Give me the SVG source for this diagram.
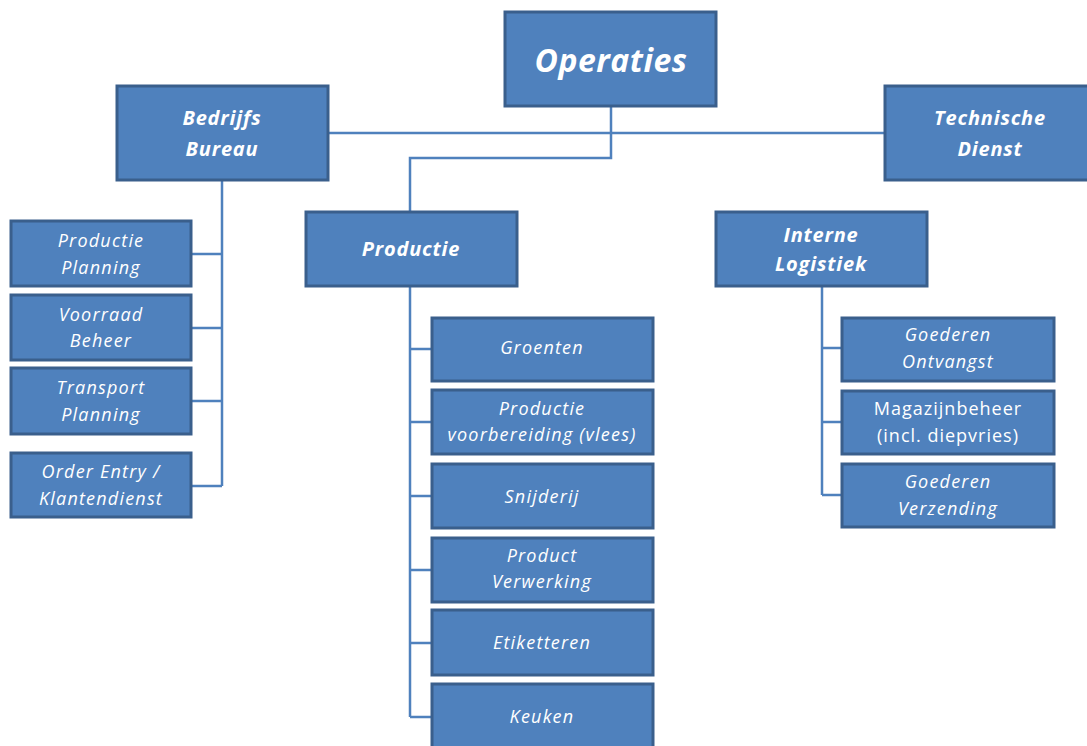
<svg xmlns="http://www.w3.org/2000/svg" width="1087" height="746" viewBox="0 0 1087 746">
<style>
.box{fill:#4F81BD;stroke:#3A5F8C;stroke-width:3}
.t{font-family:"Open Sans","Liberation Sans",sans-serif;fill:#fff;text-anchor:middle}
.l1{font-size:32px;font-weight:bold;font-style:italic;letter-spacing:0.5px}
.l2{font-size:20px;font-weight:bold;font-style:italic;letter-spacing:0.8px}
.l3{font-size:18px;font-style:italic;letter-spacing:1.2px}
.n{font-size:18px;letter-spacing:1px}
.c{fill:none;stroke:#4F81BD;stroke-width:2.5}
</style>
<rect width="1087" height="746" fill="#fff"/>
<g id="connectors">
<path class="c" d="M611 107V158H410V212"/>
<path class="c" d="M329 133H885"/>
<path class="c" d="M222 181V486M191 254H222M191 328H222M191 401H222M191 486H222"/>
<path class="c" d="M410 286V717M410 349H432M410 422H432M410 496H432M410 570H432M410 643H432M410 717H432"/>
<path class="c" d="M822 287V495M822 348H842M822 422H842M822 495H842"/>
</g>
<g id="operaties"><rect class="box" x="505" y="12" width="211" height="94"/><text class="t l1" x="611" y="72">Operaties</text></g>
<g id="bedrijfs-bureau"><rect class="box" x="117" y="86" width="211" height="94"/><text class="t l2" x="222" y="125">Bedrijfs</text><text class="t l2" x="222" y="156">Bureau</text></g>
<g id="technische-dienst"><rect class="box" x="885" y="86" width="211" height="94"/><text class="t l2" x="990" y="125">Technische</text><text class="t l2" x="990" y="156">Dienst</text></g>
<g id="productie"><rect class="box" x="306" y="212" width="211" height="74"/><text class="t l2" x="411" y="256">Productie</text></g>
<g id="interne-logistiek"><rect class="box" x="716" y="212" width="211" height="74"/><text class="t l2" x="821" y="242">Interne</text><text class="t l2" x="821" y="271">Logistiek</text></g>
<g id="productie-planning"><rect class="box" x="11" y="221" width="180" height="65"/><text class="t l3" x="101" y="247">Productie</text><text class="t l3" x="101" y="274">Planning</text></g>
<g id="voorraad-beheer"><rect class="box" x="11" y="295" width="180" height="65"/><text class="t l3" x="101" y="321">Voorraad</text><text class="t l3" x="101" y="347">Beheer</text></g>
<g id="transport-planning"><rect class="box" x="11" y="368" width="180" height="66"/><text class="t l3" x="101" y="394">Transport</text><text class="t l3" x="101" y="421">Planning</text></g>
<g id="order-entry"><rect class="box" x="11" y="453" width="180" height="64"/><text class="t l3" x="101" y="478">Order Entry /</text><text class="t l3" x="101" y="505">Klantendienst</text></g>
<g id="groenten"><rect class="box" x="432" y="318" width="221" height="63"/><text class="t l3" x="542" y="354">Groenten</text></g>
<g id="productie-voorbereiding"><rect class="box" x="432" y="390" width="221" height="64"/><text class="t l3" x="542" y="415">Productie</text><text class="t l3" x="542" y="441">voorbereiding (vlees)</text></g>
<g id="snijderij"><rect class="box" x="432" y="464" width="221" height="64"/><text class="t l3" x="542" y="503">Snijderij</text></g>
<g id="product-verwerking"><rect class="box" x="432" y="538" width="221" height="64"/><text class="t l3" x="542" y="562">Product</text><text class="t l3" x="542" y="588">Verwerking</text></g>
<g id="etiketteren"><rect class="box" x="432" y="610" width="221" height="65"/><text class="t l3" x="542" y="649">Etiketteren</text></g>
<g id="keuken"><rect class="box" x="432" y="684" width="221" height="70"/><text class="t l3" x="542" y="723">Keuken</text></g>
<g id="goederen-ontvangst"><rect class="box" x="842" y="318" width="212" height="63"/><text class="t l3" x="948" y="341">Goederen</text><text class="t l3" x="948" y="368">Ontvangst</text></g>
<g id="magazijnbeheer"><rect class="box" x="842" y="391" width="212" height="63"/><text class="t n" x="948" y="415">Magazijnbeheer</text><text class="t n" x="948" y="442">(incl. diepvries)</text></g>
<g id="goederen-verzending"><rect class="box" x="842" y="464" width="212" height="63"/><text class="t l3" x="948" y="488">Goederen</text><text class="t l3" x="948" y="515">Verzending</text></g>
</svg>
